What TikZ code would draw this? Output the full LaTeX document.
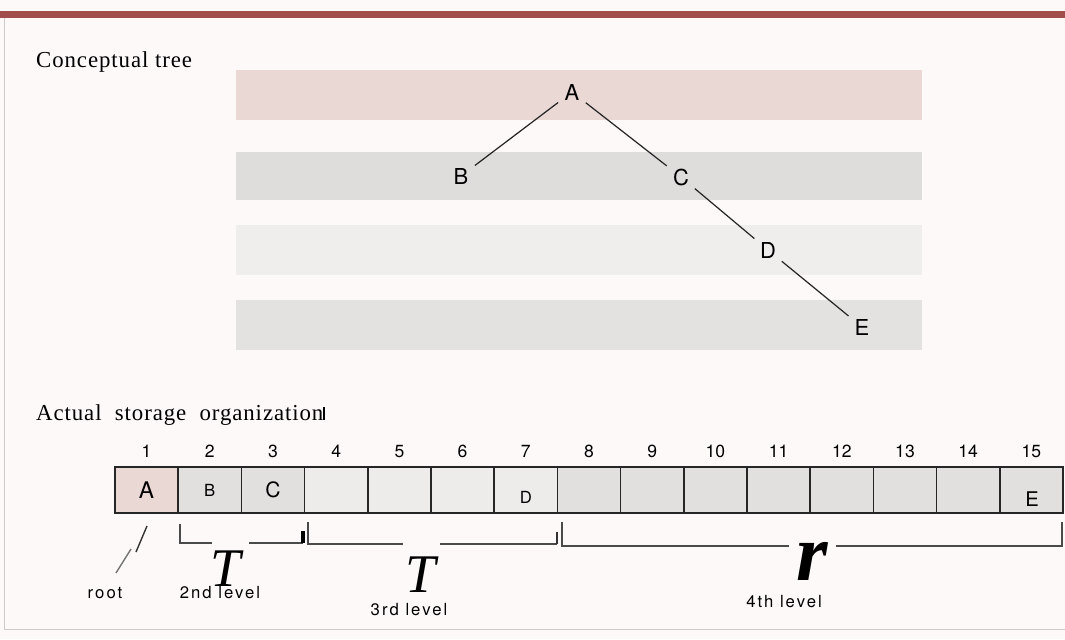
\documentclass[tikz,border=0pt]{standalone}
\usepackage{fontspec}
\setmainfont{Liberation Serif}
\newfontfamily\helv{TeX Gyre Heros}
\newfontfamily\helvsp[LetterSpace=12]{TeX Gyre Heros}
\usepackage{tikz}

\definecolor{barred}{HTML}{A04D4B}
\definecolor{paper}{HTML}{FDF9F9}
\definecolor{rosy}{HTML}{EAD8D4}
\definecolor{greyband}{HTML}{DFDDDC}
\definecolor{paleband}{HTML}{F0EEED}
\definecolor{cellgrey}{HTML}{E2E0DF}
\definecolor{cellpale}{HTML}{EEECEB}
\definecolor{inkgrey}{HTML}{4A4A4A}

\begin{document}
\begin{tikzpicture}[x=0.02cm,y=-0.02cm,
  treenode/.style={circle,inner sep=2.5pt,font=\helv\fontsize{12.5}{13}\selectfont},
  edge/.style={line width=0.7pt,black!85},
  cell/.style={draw=black!85,line width=0.9pt,minimum width=1.264cm,
    minimum height=0.92cm,inner sep=0pt,outer sep=0pt},
  num/.style={anchor=base,font=\helv\fontsize{10}{11}\selectfont},
  brace/.style={line width=0.8pt,inkgrey},
  lvl/.style={anchor=base,inner sep=0pt,font=\helvsp\fontsize{9.5}{10}\selectfont},
  bigT/.style={anchor=base,inner sep=0pt,font=\fontsize{31}{31}\selectfont\itshape},
  head/.style={anchor=base west,font=\addfontfeature{LetterSpace=4}\fontsize{13}{14}\selectfont}]
\useasboundingbox (0,0) rectangle (1065,639);
\fill[paper] (0,0) rectangle (1065,639);
\fill[barred] (0,11) rectangle (1065,18);
\draw[black!20,line width=0.4pt] (4,18) -- (4,629) -- (1065,629);

% conceptual tree
\node[head] (hd1) at (30,67) {Conceptual tree};
\fill[rosy] (236,70) rectangle (922,120);
\fill[greyband] (236,152) rectangle (922,200);
\fill[paleband] (236,225) rectangle (922,275);
\fill[greyband!85!white] (236,300) rectangle (922,350);
\node[treenode] (A) at (572,92) {A};
\node[treenode] (B) at (461,176) {B};
\node[treenode] (C) at (681,177) {C};
\node[treenode] (D) at (768,250) {D};
\node[treenode] (E) at (862,327) {E};
\draw[edge] (A) -- (B);
\draw[edge] (A) -- (C);
\draw[edge] (C) -- (D);
\draw[edge] (D) -- (E);

% storage array
\node[head] (hd2) at (30,420) {Actual\ \ storage\ \ organization\rule{0.7pt}{0.55em}};
\foreach \i/\f in {1/rosy,2/cellgrey,3/cellgrey,4/cellpale,5/cellpale,6/cellpale,
    7/cellpale,8/cellgrey,9/cellgrey,10/cellgrey,11/cellgrey,12/cellgrey,
    13/cellgrey,14/cellgrey,15/cellgrey}{
  \node[cell,fill=\f] (c\i) at ({115+63.2*(\i-0.5)},490) {};
  \node[num] (n\i) at ({115+63.2*(\i-0.5)},457) {\i};
}
\node[font=\helv\fontsize{13}{14}\selectfont] (sA) at (c1) {A};
\node[font=\helv\fontsize{9.5}{10}\selectfont] (sB) at (c2) {B};
\node[font=\helv\fontsize{12}{13}\selectfont] (sC) at (c3) {C};
\node[font=\helv\fontsize{9.5}{10}\selectfont] (sD) at (526,497) {D};
\node[font=\helv\fontsize{11.5}{12}\selectfont] (sE) at (1032,499) {E};

% root pointer
\coordinate (r1) at (147,526);
\coordinate (r2) at (136,552);
\coordinate (r3) at (131,549);
\coordinate (r4) at (116,573);
\draw[line width=0.8pt,black!80] (r1) -- (r2);
\draw[line width=0.8pt,black!55] (r3) -- (r4);
\node[lvl] (root) at (105,598) {root};

% level brackets
\coordinate (b2l) at (180,524);
\coordinate (b2a) at (212,543);
\coordinate (b2b) at (249,543);
\coordinate (b2r) at (303,543);
\draw[brace] (b2l) |- (b2a);
\draw[brace] (b2b) -- (b2r);
\draw[line width=2pt,black] (b2r) -- ++(0,-12);
\node[bigT] (T2) at (226,586) {T};
\node[lvl] (l2) at (220,598) {2nd level};

\coordinate (b3l) at (308,522);
\coordinate (b3a) at (403,544);
\coordinate (b3b) at (440,544);
\coordinate (b3r) at (557,544);
\draw[brace] (b3l) |- (b3a);
\draw[brace] (b3b) -- (b3r);
\draw[line width=1.1pt,black!80] (b3r) -- ++(0,-12);
\node[bigT] (T3) at (421,592) {T};
\node[lvl] (l3) at (409,615) {3rd level};

\coordinate (b4l) at (562,522);
\coordinate (b4a) at (789,546);
\coordinate (b4b) at (836,546);
\coordinate (b4r) at (1062,522);
\draw[brace] (b4l) |- (b4a);
\draw[brace] (b4b) -| (b4r);
\node[anchor=base,inner sep=0pt,font=\fontsize{46}{46}\selectfont\bfseries\itshape] (R4) at (812,580) {r};
\node[lvl] (l4) at (784,607) {4th level};
\end{tikzpicture}
\end{document}
